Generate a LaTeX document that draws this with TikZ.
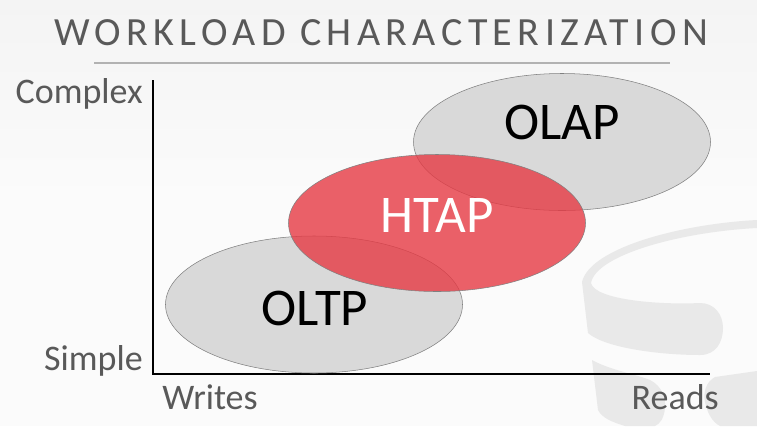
\documentclass[tikz,border=0pt]{standalone}
\usepackage{fontspec}
\setmainfont{Carlito}
\usetikzlibrary{shapes.geometric}
\definecolor{ink}{HTML}{595959}
\definecolor{wm}{HTML}{E9E9E9}
\definecolor{bgtop}{HTML}{F4F4F4}
\definecolor{bgbot}{HTML}{FBFBFB}
\definecolor{redfill}{HTML}{E63A44}
\newlength{\pxu}\setlength{\pxu}{0.75pt}
\tikzset{
 blob/.style={ellipse,draw=black!50,line width=0.4pt,minimum width=297\pxu,minimum height=137\pxu,inner sep=0pt},
 lab/.style={text=ink,font=\fontsize{36\pxu}{38\pxu}\selectfont,inner sep=0pt},
 big/.style={font=\fontsize{53\pxu}{55\pxu}\selectfont,inner sep=0pt}
}
\begin{document}
\begin{tikzpicture}[x=0.75pt,y=-0.75pt]
\useasboundingbox (0,0) rectangle (757,426);
\shade[top color=bgtop,bottom color=bgbot] (0,0) rectangle (757,200);
\fill[bgbot] (0,200) rectangle (757,426);
\fill[wm,even odd rule] (757,220) .. controls (680,224) and (590,248) .. (582,282) -- (588,333) .. controls (605,348) and (660,355) .. (700,355) .. controls (716,355) and (723,342) .. (723,328) .. controls (723,314) and (714,303) .. (700,303) .. controls (660,305) and (595,300) .. (591,283) .. controls (596,255) and (680,232) .. (757,228) -- cycle;
\fill[wm] (592,360) .. controls (610,370) and (635,374) .. (650,380) .. controls (662,386) and (666,398) .. (665,408) .. controls (664,418) and (660,424) .. (655,426) -- (625,426) .. controls (612,422) and (602,418) .. (598,410) -- cycle;
\fill[wm] (757,371) -- (715,377) .. controls (706,382) and (703,392) .. (705,402) .. controls (707,412) and (712,422) .. (720,426) -- (757,426) -- cycle;
\node[text=ink,font=\fontsize{40\pxu}{42\pxu}\selectfont,inner sep=0pt] (title) at (381,33) {\addfontfeature{LetterSpace=13.5}WORKLOAD CHARACTERIZATION};
\coordinate (ruleL) at (94,63); \coordinate (ruleR) at (670,63);
\draw[black!30,line width=0.8pt] (ruleL) -- (ruleR);
\coordinate (top) at (153,80); \coordinate (corner) at (153,374); \coordinate (right) at (710,374);
\draw[black,line width=1.5pt] (top) -- (corner) -- (right);
\node[blob,fill=black!15] (olap) at (562,142) {};
\node[blob,fill=black!15] (oltp) at (314,304.5) {};
\node[blob,fill=redfill,fill opacity=0.8] (htap) at (437,223) {};
\node[big] (lolap) at (562,122) {OLAP};
\node[big] (loltp) at (315,308) {OLTP};
\node[big,text=white] (lhtap) at (437,215) {HTAP};
\node[lab,anchor=east] (complex) at (143,94) {Complex};
\node[lab,anchor=east] (simple) at (143,361) {Simple};
\node[lab,anchor=west] (writes) at (162,397) {Writes};
\node[lab,anchor=east] (reads) at (719,397) {Reads};
\end{tikzpicture}
\end{document}
